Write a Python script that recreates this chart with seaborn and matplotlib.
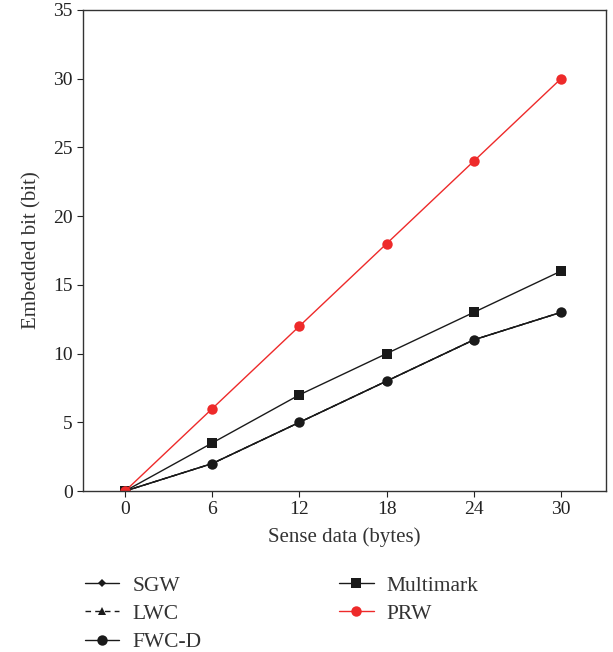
import matplotlib
matplotlib.use("Agg")
import matplotlib.pyplot as plt
import seaborn as sns
import pandas as pd

sense_bytes = [0, 6, 12, 18, 24, 30]
sgw = [0, 2, 5, 8, 11, 13]
lwc = [0, 2, 5, 8, 11, 13]
fwc_d = [0, 2, 5, 8, 11, 13]
multimark = [0, 3.5, 7, 10, 13, 16]
prw = [0, 6, 12, 18, 24, 30]
series_names = ["SGW", "LWC", "FWC-D", "Multimark", "PRW"]
series_values = [sgw, lwc, fwc_d, multimark, prw]

rows = []
for name, vals in zip(series_names, series_values):
    for x, y in zip(sense_bytes, vals):
        rows.append({"Sense data (bytes)": x, "Embedded bit (bit)": y, "method": name})
df = pd.DataFrame(rows)

sns.set_style("ticks")
plt.rcParams["font.family"] = ["Liberation Serif", "DejaVu Serif"]

fig = plt.figure(figsize=(6.13, 6.52), dpi=100)
ax = fig.add_axes([0.1354, 0.2469, 0.9886 - 0.1354, 0.9847 - 0.2469])

palette = {"SGW": "#1a1a1a", "LWC": "#1a1a1a", "FWC-D": "#1a1a1a",
           "Multimark": "#1a1a1a", "PRW": "#ee2a2a"}
markers = {"SGW": "D", "LWC": "^", "FWC-D": "o", "Multimark": "s", "PRW": "o"}
dashes = {"SGW": "", "LWC": (4, 3), "FWC-D": "", "Multimark": "", "PRW": ""}
sizes_map = {"SGW": 4, "LWC": 6, "FWC-D": 7.5, "Multimark": 7.5, "PRW": 7.5}

for name in series_names:
    sub = df[df["method"] == name]
    sns.lineplot(data=sub, x="Sense data (bytes)", y="Embedded bit (bit)",
                 color=palette[name], marker=markers[name],
                 markersize=sizes_map[name], markeredgewidth=0,
                 linewidth=1.0, label=name, ax=ax, legend=False)
    if dashes[name]:
        ax.lines[-1].set_dashes(dashes[name])

ax.set_xlim(-2.9, 33.1)
ax.set_ylim(0, 35)
ax.set_xticks(sense_bytes)
ax.set_yticks([0, 5, 10, 15, 20, 25, 30, 35])
ax.tick_params(direction="out", length=4, width=0.8, labelsize=14, colors="#222222")
for s in ax.spines.values():
    s.set_linewidth(1.0)
    s.set_color("#333333")
ax.set_xlabel("Sense data (bytes)", fontsize=15, color="#333333", labelpad=6)
ax.set_ylabel("Embedded bit (bit)", fontsize=15, color="#333333", labelpad=8)

handles, labels = ax.get_legend_handles_labels()
fig.legend(handles, labels, loc="upper left", bbox_to_anchor=(0.107, 0.147),
           ncol=2, frameon=False, fontsize=15.5, handlelength=1.6,
           handletextpad=0.6, columnspacing=6.4, labelspacing=0.38,
           labelcolor="#333333")

fig.savefig("out.png", dpi=100)
